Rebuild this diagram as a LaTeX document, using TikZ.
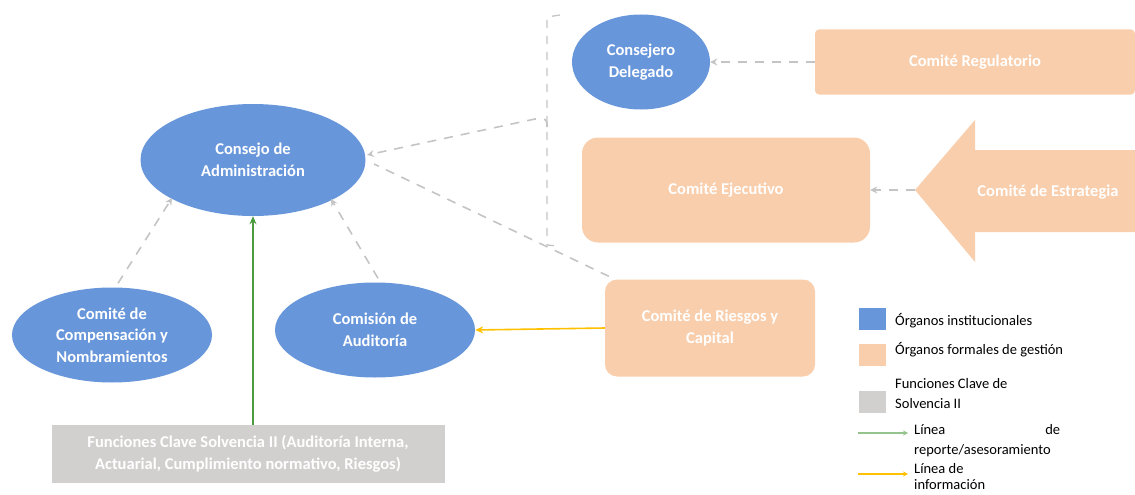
\documentclass[tikz,border=0pt]{standalone}
\usepackage{fontspec}
\setmainfont{Carlito}
\usetikzlibrary{shapes.geometric,arrows.meta,calc}
\definecolor{instc}{RGB}{103,150,218}
\definecolor{gestc}{RGB}{249,206,172}
\definecolor{clavec}{RGB}{210,207,207}
\definecolor{dashc}{RGB}{196,196,196}
\definecolor{greenl}{RGB}{76,155,62}
\definecolor{yell}{RGB}{255,192,0}
\tikzset{
  boxfont/.style={text=white,font=\bfseries\fontsize{16.5}{21.5}\selectfont,align=center},
  instnode/.style={ellipse,fill=instc,draw=none,inner sep=0pt,boxfont},
  gestnode/.style={rectangle,fill=gestc,draw=none,boxfont},
  clavenode/.style={rectangle,fill=clavec,draw=none,boxfont},
  dashl/.style={draw=dashc,line width=1.6pt,dash pattern=on 9pt off 8pt,-{Stealth[length=7pt,width=7pt]}},
  dashnl/.style={draw=dashc,line width=1.6pt,dash pattern=on 9pt off 8pt},
  bracketl/.style={draw=dashc,line width=1.3pt,dash pattern=on 8pt off 8pt},
  greenarr/.style={draw=greenl,line width=1.6pt,-{Stealth[length=8pt,width=7pt]}},
  yellarr/.style={draw=yell,line width=1.6pt,-{Stealth[length=8pt,width=7pt]}},
  legsq/.style={rectangle,minimum width=27pt,minimum height=22pt,inner sep=0pt,draw=none},
  legtxt/.style={anchor=west,font=\fontsize{14.5}{20}\selectfont,align=left,inner sep=0pt}
}
\begin{document}
\begin{tikzpicture}[x=1pt,y=-1pt]
\useasboundingbox (0,0) rectangle (1135,495);
% nodes
\node[instnode,minimum width=225pt,minimum height=112pt] (consejo) at (253,160) {Consejo de\\Administración};
\node[instnode,minimum width=138pt,minimum height=95pt] (delegado) at (641,62) {Consejero\\Delegado};
\node[gestnode,rounded corners=4pt,minimum width=320pt,minimum height=65pt] (regul) at (975,62) {Comité Regulatorio};
\node[gestnode,rounded corners=16pt,minimum width=288pt,minimum height=105pt] (ejec) at (726,190) {Comité Ejecutivo};
\node[instnode,minimum width=200pt,minimum height=95pt] (compens) at (112,335) {Comité de\\Compensación y\\Nombramientos};
\node[instnode,minimum width=200pt,minimum height=95pt] (audit) at (375,330) {Comisión de\\Auditoría};
\node[gestnode,rounded corners=12pt,minimum width=210pt,minimum height=97pt] (riesgos) at (710,328) {Comité de Riesgos y\\Capital};
\node[clavenode,minimum width=393pt,minimum height=58pt] (funciones) at (248,454) {Funciones Clave Solvencia II (Auditoría Interna,\\Actuarial, Cumplimiento normativo, Riesgos)};
% strategy arrow shape
\fill[gestc] (915,190) -- (975,120) -- (975,150) -- (1135,150) -- (1135,232) -- (975,232) -- (975,262) -- cycle;
\coordinate (estrat) at (915,190);
\node[boxfont] (estrattxt) at (1048,192) {Comité de Estrategia};
% bracket
\coordinate (brtop) at (560,15);
\coordinate (brtopc) at (547,17);
\coordinate (brmid) at (547,127);
\coordinate (brtip) at (535,119);
\coordinate (brbotc) at (547,245);
\coordinate (brbot) at (558,246);
\draw[bracketl] (brtop) -- (brtopc) -- (brbotc) -- (brbot);
% connectors
\draw[dashl] (brmid) .. controls (547,119) .. (brtip) -- (367,155);
\draw[dashl] (regul.west) -- (delegado.east);
\draw[dashl] (estrat) -- (ejec.east);
\draw[dashnl] ($(riesgos.north west)+(4,-3)$) -- (374,164);
\draw[dashl] ($(compens.north)+(6,-4)$) -- (172,198);
\draw[dashl] ($(audit.north)+(3,-4)$) -- (331,199);
\draw[greenarr] (funciones.north -| consejo.south) -- (consejo.south);
\draw[yellarr] (riesgos.west) -- (audit.east);
% legend
\node[legsq,fill=instc] (lg1) at (872,319) {};
\node[legtxt] (lt1) at (895,321) {Órganos institucionales};
\node[legsq,fill=gestc] (lg2) at (872,355) {};
\node[legtxt] (lt2) at (895,350) {Órganos formales de gestión};
\node[legsq,fill=clavec] (lg3) at (872,402) {};
\node[legtxt] (lt3) at (895,394) {Funciones Clave de\\Solvencia II};
\coordinate (la1) at (858,433);
\coordinate (lb1) at (908,433);
\draw[draw=greenl!60,line width=1.2pt,-{Stealth[length=5pt,width=5pt]}] (la1) -- (lb1);
\node[legtxt,anchor=north west,text width=146pt] (lt4) at (914,424) {Línea\hfill de\\reporte/asesoramiento};
\coordinate (la2) at (858,474);
\coordinate (lb2) at (908,474);
\draw[draw=yell,line width=1.2pt,-{Stealth[length=5pt,width=5pt]}] (la2) -- (lb2);
\node[legtxt,anchor=north west,font=\fontsize{14.5}{16}\selectfont] (lt5) at (914,463) {Línea de\\información};
\end{tikzpicture}
\end{document}
